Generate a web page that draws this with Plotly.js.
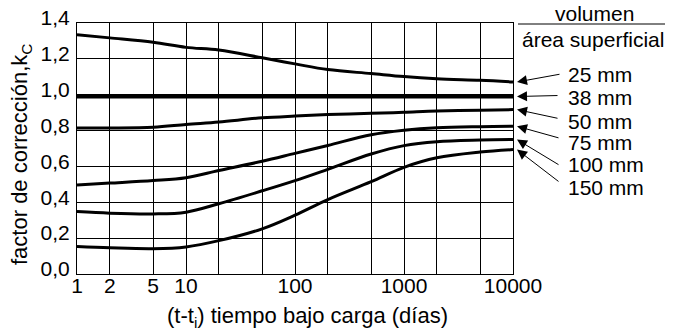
<!DOCTYPE html>
<html>
<head>
<meta charset="utf-8">
<script src="https://cdn.plot.ly/plotly-3.0.1.min.js"></script>
<style>html,body{margin:0;padding:0;background:#fff;}#chart{width:673px;height:332px;}</style>
</head>
<body>
<div id="chart"></div>
<script>
// ---- data ----
const days = [1, 2, 5, 10, 20, 50, 100, 200, 500, 1000, 2000, 5000, 10000];
const seriesNames = ["25 mm", "38 mm", "50 mm", "75 mm", "100 mm", "150 mm"];
const kc25  = [1.335, 1.317, 1.292, 1.264, 1.249, 1.206, 1.172, 1.140, 1.118, 1.101, 1.089, 1.080, 1.071];
const kc38  = [0.990, 0.990, 0.990, 0.990, 0.990, 0.990, 0.990, 0.990, 0.990, 0.990, 0.990, 0.990, 0.990];
const kc50  = [0.814, 0.814, 0.818, 0.834, 0.848, 0.871, 0.881, 0.889, 0.896, 0.902, 0.909, 0.914, 0.917];
const kc75  = [0.497, 0.507, 0.521, 0.537, 0.577, 0.629, 0.673, 0.717, 0.777, 0.802, 0.816, 0.822, 0.824];
const kc100 = [0.348, 0.339, 0.335, 0.345, 0.392, 0.464, 0.521, 0.584, 0.669, 0.716, 0.738, 0.747, 0.750];
const kc150 = [0.153, 0.146, 0.141, 0.151, 0.186, 0.252, 0.328, 0.415, 0.515, 0.595, 0.648, 0.680, 0.694];
const xTickVals = [1, 2, 5, 10, 20, 50, 100, 200, 500, 1000, 2000, 5000, 10000];
const xTickText = ["1", "2", "5", "10", "", "", "100", "", "", "1000", "", "", "10000"];
const yTickVals = [0, 0.2, 0.4, 0.6, 0.8, 1.0, 1.2, 1.4];
const yTickText = ["0,0", "0,2", "0,4", "0,6", "0,8", "1,0", "1,2", "1,4"];
const allSeries = [kc25, kc38, kc50, kc75, kc100, kc150];

// ---- styling / layout ----
const FONT = "Liberation Sans, Arial, sans-serif";
const traces = allSeries.map((ys, i) => ({
  x: days, y: ys, name: seriesNames[i], type: "scatter", mode: "lines",
  line: {color: "#000", width: i === 1 ? 4 : 3, shape: "spline", smoothing: 1},
  hoverinfo: "skip"
}));

// label placement (pixels from top of figure)
const labelPixY = [74.5, 98, 121, 142.5, 165, 187.5];
const arrowOff = [[44, -8], [42, -1], [42, 9], [43, 12], [43, 26], [43, 33]];
const plotTop = 23, plotH = 251, plotL = 77, plotW = 436;
const py = p => (plotTop + plotH - p) / plotH;
const px = p => (p - plotL) / plotW;

const annotations = [];
seriesNames.forEach((n, i) => {
  const ys = allSeries[i];
  annotations.push({
    xref: "paper", yref: "paper", x: px(566), y: py(labelPixY[i]),
    xanchor: "left", yanchor: "middle", text: n, showarrow: false,
    font: {family: FONT, size: 21, color: "#000"}
  });
  annotations.push({
    xref: "paper", yref: "y", x: px(517), y: ys[ys.length - 1],
    ax: arrowOff[i][0], ay: arrowOff[i][1], text: "", showarrow: true,
    arrowhead: 2, arrowsize: 2, arrowwidth: 1, arrowcolor: "#000"
  });
});
annotations.push({xref: "paper", yref: "paper", x: px(594), y: py(13), text: "volumen",
  showarrow: false, xanchor: "center", yanchor: "middle", font: {family: FONT, size: 21, color: "#000"}});
annotations.push({xref: "paper", yref: "paper", x: px(593), y: py(39), text: "área superficial",
  showarrow: false, xanchor: "center", yanchor: "middle", font: {family: FONT, size: 21, color: "#000"}});
annotations.push({xref: "paper", yref: "paper", x: px(307), y: py(317),
  text: "(t-t<sub>i</sub>) tiempo bajo carga (días)", showarrow: false,
  xanchor: "center", yanchor: "middle", font: {family: FONT, size: 22, color: "#000"}});
annotations.push({xref: "paper", yref: "paper", x: px(21), y: py(155),
  text: "factor de corrección,k<sub>C</sub>", showarrow: false, textangle: -90,
  xanchor: "center", yanchor: "middle", font: {family: FONT, size: 22, color: "#000"}});

const layout = {
  width: 673, height: 332,
  margin: {l: plotL, r: 673 - plotL - plotW, t: plotTop, b: 332 - plotTop - plotH, pad: 0},
  paper_bgcolor: "#fff", plot_bgcolor: "#fff",
  showlegend: false,
  font: {family: FONT, size: 21, color: "#000"},
  xaxis: {
    type: "log", range: [0, 4], tickmode: "array", tickvals: xTickVals, ticktext: xTickText,
    showgrid: true, gridcolor: "#000", gridwidth: 1, zeroline: false,
    showline: true, linecolor: "#000", linewidth: 1, mirror: true, ticks: "",
    tickfont: {family: FONT, size: 21, color: "#000"}, ticklabelstandoff: -7
  },
  yaxis: {
    range: [0, 1.4], tickmode: "array", tickvals: yTickVals, ticktext: yTickText,
    showgrid: true, gridcolor: "#000", gridwidth: 1, zeroline: false,
    showline: true, linecolor: "#000", linewidth: 1, mirror: true, ticks: "",
    tickfont: {family: FONT, size: 21, color: "#000"}, ticklabelshift: -5, ticklabelstandoff: 2
  },
  shapes: [{type: "line", xref: "paper", yref: "paper", x0: px(518), x1: px(665), y0: py(24), y1: py(24),
    line: {color: "#000", width: 1}}],
  annotations: annotations
};

Plotly.newPlot("chart", traces, layout, {staticPlot: true, displayModeBar: false});
</script>
</body>
</html>
